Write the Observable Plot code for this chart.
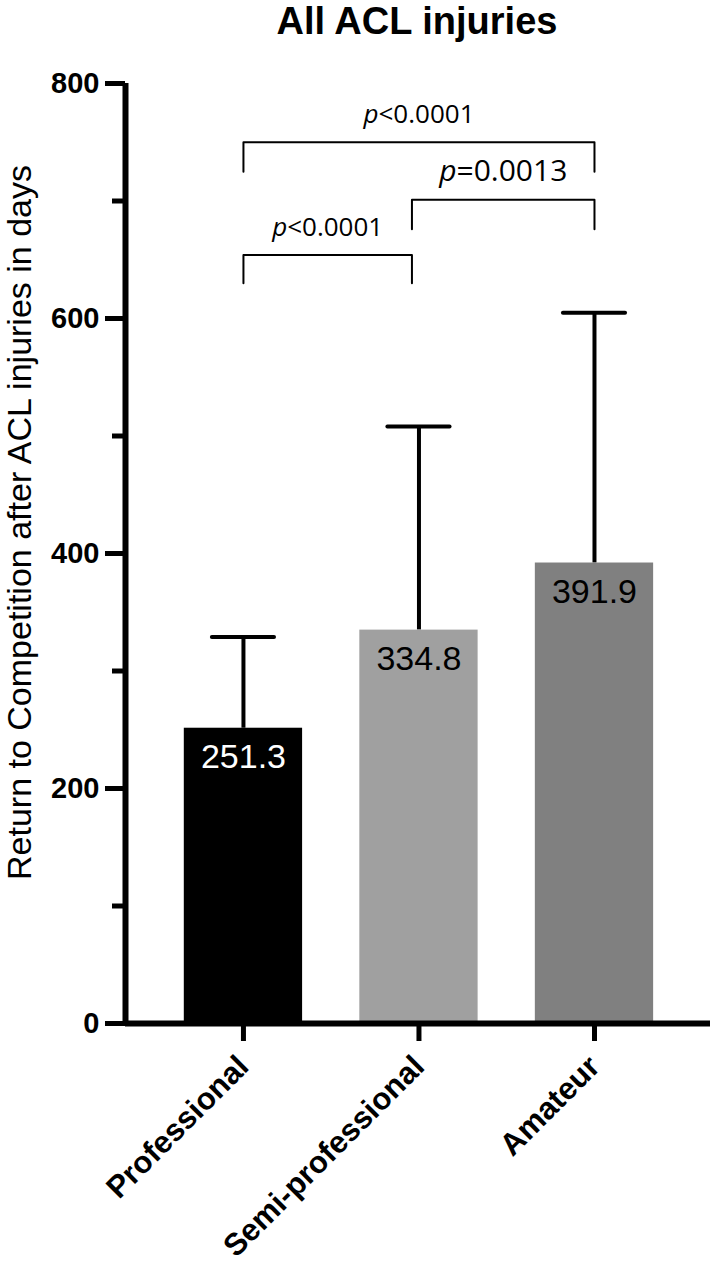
<!DOCTYPE html>
<html><head><meta charset="utf-8">
<script src="https://cdn.jsdelivr.net/npm/d3@7"></script>
<script src="https://cdn.jsdelivr.net/npm/@observablehq/plot@0.6"></script>
<style>
body{margin:0;background:#fff;}
#title{height:50px;line-height:62px;font:bold 38px "Liberation Sans",Arial,sans-serif;text-align:center;padding-left:121px;width:592px;color:#000;white-space:nowrap;overflow:visible}
#chart svg{display:block}
</style></head><body>
<div id="title">All ACL injuries</div>
<div id="chart"></div>
<script>
// ---- data ----
const categories = ["Professional", "Semi-professional", "Amateur"];
const means = [251.3, 334.8, 391.9];
const upperSD = [329, 508, 605];          // top of error bar (mean + SD)
const barColors = ["#000000", "#a0a0a0", "#808080"];
const labelColors = ["#ffffff", "#000000", "#000000"];
const yMajorTicks = [0, 200, 400, 600, 800];
const yMinorTicks = [100, 300, 500, 700];
const compFrom = [0, 1, 0];               // category index
const compTo = [2, 2, 1];
const compLabel = ["p<0.0001", "p=0.0013", "p<0.0001"];
const compTop = [750, 701, 654];          // bracket height (days)
const compLeg = [725, 676, 630];          // bracket leg end (days)
const yLabel = "Return to Competition after ACL injuries in days";

const xDomain = [-0.672, 2.661];
const halfBar = 0.337;
const halfCap = 0.177;
const legX = i => (i === 1 ? i - 0.04 : i);   // brackets meet just left of the middle bar

const bars = categories.map((c, i) => ({
  i, name: c, mean: means[i], upper: upperSD[i], fill: barColors[i], label: labelColors[i]
}));
const comps = compLabel.map((t, k) => ({
  k, from: compFrom[k], to: compTo[k], top: compTop[k], leg: compLeg[k], text: t
}));
const bracketPts = comps.flatMap(c => [
  {k: c.k, x: legX(c.from), y: c.leg},
  {k: c.k, x: legX(c.from), y: c.top},
  {k: c.k, x: legX(c.to), y: c.top},
  {k: c.k, x: legX(c.to), y: c.leg}
]);

const font = "'Liberation Sans', Arial, sans-serif";

const plot = Plot.plot({
  width: 713,
  height: 1214,
  marginTop: 33,
  marginBottom: 241,
  marginLeft: 125,
  marginRight: 3,
  style: {fontFamily: font, background: "#fff", overflow: "visible"},
  x: {type: "linear", domain: xDomain, axis: null},
  y: {domain: [0, 800], axis: null},
  color: {type: "identity"},
  marks: [
    // error bars
    Plot.ruleX(bars, {x: "i", y1: "mean", y2: "upper", stroke: "#000", strokeWidth: 4}),
    Plot.ruleY(bars, {y: "upper", x1: d => d.i - halfCap, x2: d => d.i + halfCap,
      stroke: "#000", strokeWidth: 4, strokeLinecap: "round"}),
    // bars
    Plot.rectY(bars, {x1: d => d.i - halfBar, x2: d => d.i + halfBar, y1: 0, y2: "mean", fill: "fill"}),
    // value labels
    Plot.text(bars, {x: "i", y: "mean", text: d => d.mean.toFixed(1), fill: "label",
      fontSize: 34, lineAnchor: "middle", dy: 29}),
    // brackets
    Plot.line(bracketPts, {x: "x", y: "y", z: "k", stroke: "#000", strokeWidth: 2}),
    Plot.text(comps.filter(c => c.k !== 1), {x: d => (legX(d.from) + legX(d.to)) / 2, y: "top", text: "text",
      lineAnchor: "bottom", dy: -19, fontSize: 26, fontFamily: "'Open Sans', sans-serif"}),
    Plot.text(comps.filter(c => c.k === 1), {x: d => (legX(d.from) + legX(d.to)) / 2, y: "top", text: "text",
      lineAnchor: "bottom", dy: -19, fontSize: 30, fontFamily: "'Open Sans', sans-serif"}),
    // axes
    Plot.axisY(yMinorTicks, {anchor: "left", tickSize: 13, strokeWidth: 5, tickFormat: () => "", label: null}),
    Plot.axisY(yMajorTicks, {anchor: "left", tickSize: 20, strokeWidth: 5, tickPadding: 6,
      fontSize: 29, fontWeight: "bold", label: null}),
    Plot.ruleX([xDomain[0]], {y1: 0, y2: 800, stroke: "#000", strokeWidth: 6}),
    Plot.ruleY([0], {stroke: "#000", strokeWidth: 6}),
    Plot.axisX([0, 1, 2], {anchor: "bottom", tickSize: 18, strokeWidth: 5, tickPadding: 20,
      tickFormat: i => categories[i], tickRotate: -45, fontSize: 31, fontWeight: "bold", label: null}),
    // y label
    Plot.text([yLabel], {text: d => d, frameAnchor: "left", rotate: -90, dx: -105, dy: -31,
      fontSize: 34, textAnchor: "middle"})
  ]
});

// italic "p" in the comparison labels
plot.querySelectorAll("text").forEach(t => {
  const s = t.textContent;
  if (/^p[<=]/.test(s) && t.childElementCount === 0) {
    t.textContent = "";
    const a = document.createElementNS("http://www.w3.org/2000/svg", "tspan");
    a.setAttribute("font-style", "italic");
    a.textContent = "p";
    const b = document.createElementNS("http://www.w3.org/2000/svg", "tspan");
    b.textContent = s.slice(1);
    t.append(a, b);
  }
});

document.getElementById("chart").append(plot);
</script>
</body></html>
